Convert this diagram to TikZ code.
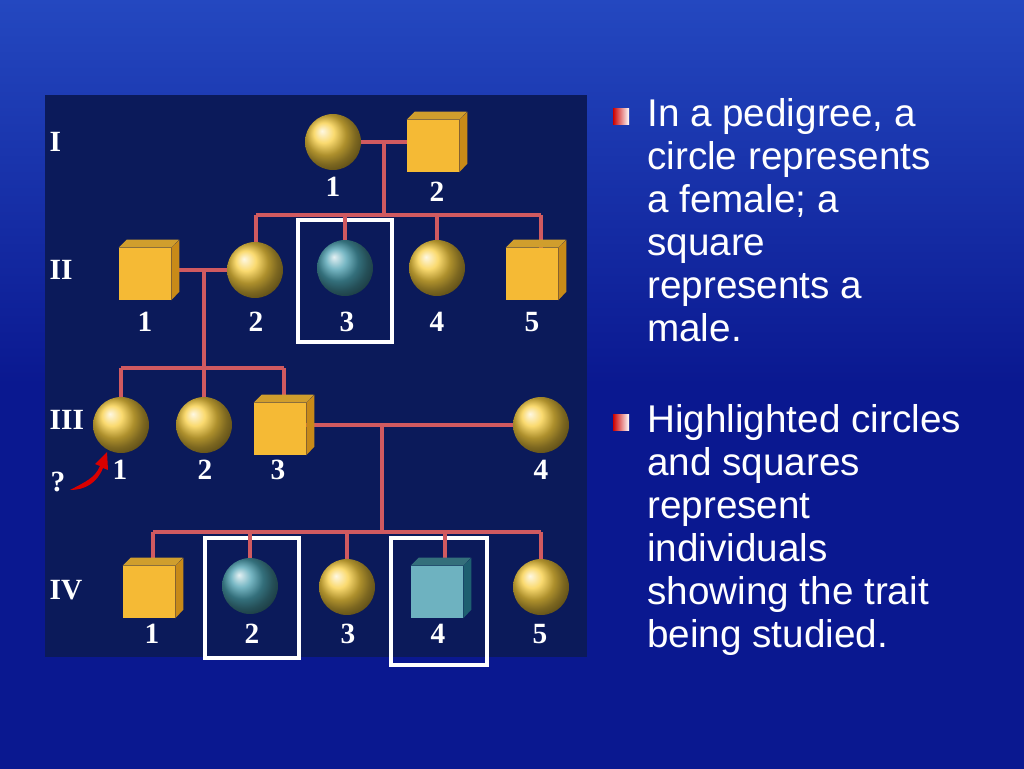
\documentclass[tikz,border=0pt]{standalone}
\usepackage{fontspec}
\setmainfont{Liberation Serif}
\newfontfamily\sansf{Liberation Sans}
\definecolor{bgA}{HTML}{0A1890}
\definecolor{bgB}{HTML}{2448C0}
\definecolor{panel}{HTML}{0B1A5A}
\definecolor{gold}{HTML}{F5BA35}
\definecolor{goldD}{HTML}{C88A18}
\definecolor{teal}{HTML}{4A9FB0}
\definecolor{tealD}{HTML}{1E5F70}
\definecolor{lin}{HTML}{D05A60}
\begin{document}
\begin{tikzpicture}[x=0.75pt,y=-0.75pt,
  fem/.style={circle,minimum size=42pt,inner sep=0,ball color=gold!80!yellow!90!white,draw=none},
  aff/.style={circle,minimum size=42pt,inner sep=0,ball color=teal,draw=none},
  male/.style={rectangle,minimum size=39pt,inner sep=0,fill=gold},
  maleA/.style={rectangle,minimum size=39pt,inner sep=0,fill=teal!80!white},
  num/.style={text=white,font=\bfseries\fontsize{22}{22}\selectfont},
  gen/.style={text=white,font=\bfseries\fontsize{22}{22}\selectfont,anchor=west},
  ln/.style={draw=lin,line width=2.4pt},
  hbox/.style={draw=white,line width=3pt},
  btxt/.style={text=white,anchor=north west,align=left,inner sep=0,
     font=\sansf\fontsize{29}{32.3}\selectfont},
  bul/.style={minimum size=12pt,inner sep=0,left color=red!80!black,right color=white,draw=none}]
\useasboundingbox (0,0) rectangle (1024,768);
\shade[bottom color=bgA,top color=bgB,middle color=bgA] (0,0) rectangle (1024,768);
\fill[panel] (45,95) rectangle (587,657);
% highlight boxes
\draw[hbox] (298,220) rectangle (392,342);
\draw[hbox] (205,538) rectangle (299,658);
\draw[hbox] (391,538) rectangle (487,665);
% connectors
\coordinate (c1) at (384,142); \coordinate (c1d) at (384,215);
\coordinate (s2l) at (256,215); \coordinate (s2r) at (541,215);
\coordinate (c2) at (204,270); \coordinate (c2d) at (204,368);
\coordinate (s3l) at (121,368); \coordinate (s3r) at (284,368);
\coordinate (c3) at (382,425); \coordinate (c3d) at (382,532);
\coordinate (s4l) at (153,532); \coordinate (s4r) at (541,532);
\draw[ln] (361,142) -- (407,142); \draw[ln] (c1) -- (c1d);
\draw[ln] (s2l) -- (s2r);
\foreach \x in {256,345,437,541} \draw[ln] (\x,215) -- (\x,248);
\draw[ln] (172,270) -- (227,270); \draw[ln] (c2) -- (c2d);
\draw[ln] (s3l) -- (s3r);
\foreach \x in {121,204,284} \draw[ln] (\x,368) -- (\x,400);
\draw[ln] (306,425) -- (513,425); \draw[ln] (c3) -- (c3d);
\draw[ln] (s4l) -- (s4r);
\foreach \x in {153,250,347,445,541} \draw[ln] (\x,532) -- (\x,562);
% Gen I
\node[fem] (i1) at (333,142) {};
\node[male] (i2) at (433,146) {};
\fill[goldD] (i2.north east) -- ++(8,-8) -- ++(0,52) -- (i2.south east) -- cycle;
\fill[gold!85!black] (i2.north west) -- ++(8,-8) -- ++(52,0) -- (i2.north east) -- cycle;
\node[num] at (333,187) {1}; \node[num] at (437,192) {2};
% Gen II
\node[male] (ii1) at (145,274) {};
\fill[goldD] (ii1.north east) -- ++(8,-8) -- ++(0,52) -- (ii1.south east) -- cycle;
\fill[gold!85!black] (ii1.north west) -- ++(8,-8) -- ++(52,0) -- (ii1.north east) -- cycle;
\node[fem] (ii2) at (255,270) {};
\node[aff] (ii3) at (345,268) {};
\node[fem] (ii4) at (437,268) {};
\node[male] (ii5) at (532,274) {};
\fill[goldD] (ii5.north east) -- ++(8,-8) -- ++(0,52) -- (ii5.south east) -- cycle;
\fill[gold!85!black] (ii5.north west) -- ++(8,-8) -- ++(52,0) -- (ii5.north east) -- cycle;
\foreach \x/\t in {145/1,256/2,347/3,437/4,532/5} \node[num] at (\x,322) {\t};
% Gen III
\node[fem] (iii1) at (121,425) {};
\node[fem] (iii2) at (204,425) {};
\node[male] (iii3) at (280,429) {};
\fill[goldD] (iii3.north east) -- ++(8,-8) -- ++(0,52) -- (iii3.south east) -- cycle;
\fill[gold!85!black] (iii3.north west) -- ++(8,-8) -- ++(52,0) -- (iii3.north east) -- cycle;
\node[fem] (iii4) at (541,425) {};
\foreach \x/\t in {120/1,205/2,278/3,541/4} \node[num] at (\x,470) {\t};
\node[num] (q) at (58,482) {?};
\fill[red!85!black] (70,490) .. controls (85,482) and (95,478) .. (100,466) -- (95,464) -- (107,452) -- (108,470) -- (103,468) .. controls (97,483) and (85,490) .. (70,490) -- cycle;
% Gen IV
\node[male] (iv1) at (149,592) {};
\fill[goldD] (iv1.north east) -- ++(8,-8) -- ++(0,52) -- (iv1.south east) -- cycle;
\fill[gold!85!black] (iv1.north west) -- ++(8,-8) -- ++(52,0) -- (iv1.north east) -- cycle;
\node[aff] (iv2) at (250,586) {};
\node[fem] (iv3) at (347,587) {};
\node[maleA] (iv4) at (437,592) {};
\fill[tealD] (iv4.north east) -- ++(8,-8) -- ++(0,52) -- (iv4.south east) -- cycle;
\fill[teal!70!black] (iv4.north west) -- ++(8,-8) -- ++(52,0) -- (iv4.north east) -- cycle;
\node[fem] (iv5) at (541,587) {};
\foreach \x/\t in {152/1,252/2,348/3,438/4,540/5} \node[num] at (\x,634) {\t};
% generation labels
\node[gen] at (45,142) {I}; \node[gen] at (45,270) {II};
\node[gen] at (45,420) {III}; \node[gen] at (45,590) {IV};
% bullets
\node[bul] (b1) at (621,116) {};
\node[btxt] (t1) at (647,98) {In a pedigree, a\\circle represents\\a female; a\\square\\represents a\\male.};
\node[bul] (b2) at (621,422) {};
\node[btxt] (t2) at (647,404) {Highlighted circles\\and squares\\represent\\individuals\\showing the trait\\being studied.};
\end{tikzpicture}
\end{document}
